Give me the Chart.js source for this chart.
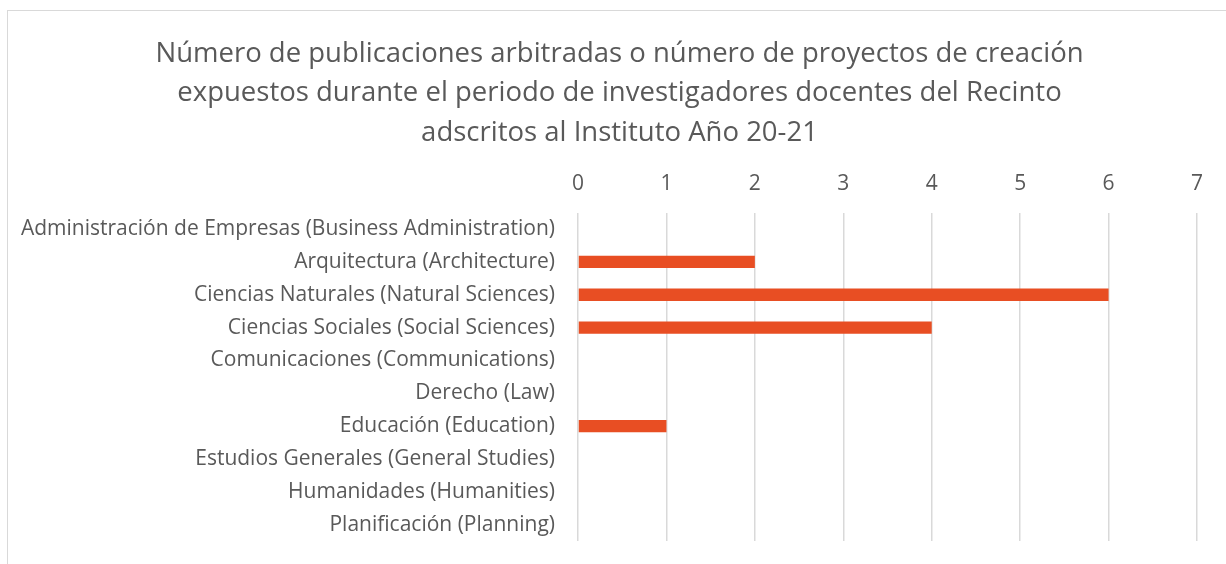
<!DOCTYPE html>
<html>
<head>
<meta charset="utf-8">
<script src="https://cdn.jsdelivr.net/npm/chart.js@4"></script>
<style>
  html, body { margin: 0; padding: 0; background: #fff; overflow: hidden; }
  #frame { position: absolute; left: 7px; top: 10px; width: 1240px; height: 600px; border: 1px solid #d9d9d9; box-sizing: border-box; }
  #wrap { position: absolute; left: 0; top: 0; width: 1226px; height: 564px; }
</style>
</head>
<body>
<div id="frame"></div>
<div id="wrap"><canvas id="chart" width="1226" height="564"></canvas></div>
<script>
const categories = [
  'Administración de Empresas (Business Administration)',
  'Arquitectura (Architecture)',
  'Ciencias Naturales (Natural Sciences)',
  'Ciencias Sociales (Social Sciences)',
  'Comunicaciones (Communications)',
  'Derecho (Law)',
  'Educación (Education)',
  'Estudios Generales (General Studies)',
  'Humanidades (Humanities)',
  'Planificación (Planning)'
];
const values = [0, 2, 6, 4, 0, 0, 1, 0, 0, 0];
const titleLines = [
  'Número de publicaciones arbitradas o número de proyectos de creación',
  'expuestos durante el periodo de investigadores docentes del Recinto',
  'adscritos al Instituto Año 20-21'
];

const textColor = '#595959';
const fontFamily = '"Open Sans", sans-serif';

// the title in the original is centred on the whole frame, not on the label column
const shiftTitle = {
  id: 'shiftTitle',
  afterLayout(chart) {
    chart.titleBlock.left += 42;
  }
};

new Chart(document.getElementById('chart').getContext('2d'), {
  type: 'bar',
  data: {
    labels: categories,
    datasets: [{
      data: values,
      backgroundColor: '#E84E23',
      barPercentage: 0.75,
      categoryPercentage: 0.5
    }]
  },
  plugins: [shiftTitle],
  options: {
    indexAxis: 'y',
    responsive: false,
    animation: false,
    layout: { padding: { left: 0, right: 29, top: 34, bottom: 23 } },
    plugins: {
      legend: { display: false },
      tooltip: { enabled: false },
      title: {
        display: true,
        text: titleLines,
        color: textColor,
        font: { family: fontFamily, size: 27.5, weight: 'normal', lineHeight: 1.436 },
        padding: { top: 0, bottom: 3 }
      }
    },
    scales: {
      x: {
        position: 'top',
        min: 0,
        max: 7,
        ticks: { stepSize: 1, color: textColor, padding: 16, font: { family: fontFamily, size: 21 } },
        grid: { color: '#d9d9d9', lineWidth: 1.5, drawTicks: false },
        border: { display: false }
      },
      y: {
        ticks: { color: textColor, padding: 10, font: { family: fontFamily, size: 21 } },
        grid: { display: false, drawTicks: true, tickLength: 13 },
        border: { display: false },
        afterFit: (scale) => { scale.width = 578; }
      }
    }
  }
});
</script>
</body>
</html>
